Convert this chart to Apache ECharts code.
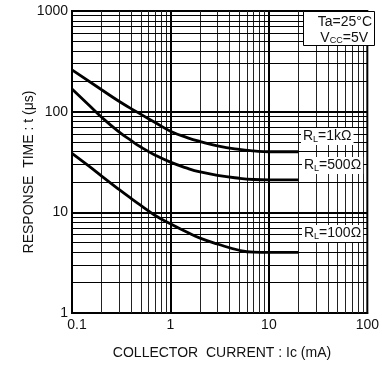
<!DOCTYPE html>
<html><head><meta charset="utf-8">
<script src="https://cdn.jsdelivr.net/npm/echarts@6/dist/echarts.min.js"></script>
<style>html,body{margin:0;padding:0;background:#fff}#c{width:382px;height:365px}</style>
</head><body><div id="c"></div>
<script>
// Tick labels
const xTicks = [0.1, 1, 10, 100];
const yTicks = [1, 10, 100, 1000];
// Series: collector current Ic (mA) vs response time t (us)
const ic1k  = [0.1, 0.2, 0.3, 0.45, 0.7, 1, 1.5, 2, 3, 5, 7, 10, 20];
const t1k   = [260, 165, 127, 100, 78, 64, 55, 50.5, 45.8, 42.2, 40.8, 40, 40];
const ic500 = [0.1, 0.15, 0.2, 0.3, 0.4, 0.5, 0.7, 1, 1.5, 2, 3, 5, 7, 10, 20];
const t500  = [168, 115, 88, 63, 51.5, 44.5, 37, 31.5, 27.3, 25.2, 23.3, 21.8, 21.2, 21, 21];
const ic100 = [0.1, 0.15, 0.2, 0.3, 0.4, 0.5, 0.7, 1, 1.5, 2, 3, 5, 7, 10, 20];
const t100  = [38.6, 28.6, 22.9, 16.9, 13.7, 11.7, 9.3, 7.7, 6.3, 5.55, 4.85, 4.2, 4.02, 4, 4];

const zip = (a, b) => a.map((v, i) => [v, b[i]]);

// grid line positions (1..9 per decade)
const minorX = [], majorX = [1, 10], minorY = [], majorY = [10, 100];
[0.1, 1, 10].forEach(d => { for (let k = 2; k <= 9; k++) minorX.push(+(d * k).toPrecision(3)); });
[1, 10, 100].forEach(d => { for (let k = 2; k <= 9; k++) minorY.push(+(d * k).toPrecision(3)); });
const vLines = arr => arr.map(v => ({coords: [[v, yTicks[0]], [v, yTicks[3]]]}));
const hLines = arr => arr.map(v => ({coords: [[xTicks[0], v], [xTicks[3], v]]}));

const chart = echarts.init(document.getElementById('c'), null, {renderer: 'canvas'});
const font = 'Liberation Sans, Arial, sans-serif';
const curve = (name, d) => ({
  type: 'line', name, data: d, smooth: 0.5, symbol: 'none', z: 5,
  lineStyle: {color: '#000', width: 2.8}
});
const sub = {
  a: {fontSize: 14, fontFamily: font, color: '#111'},
  s: {fontSize: 9, fontFamily: font, color: '#111', padding: [6, 0, 0, 0]}
};
const rlLabel = (txt, x, y) => ({
  type: 'text', left: x, top: y, z: 20,
  style: {rich: sub, text: '{a|R}{s|L}{a|' + txt + '}', backgroundColor: '#fff', padding: [1, 2, 1, 2], fill: '#111'}
});
chart.setOption({
  animation: false,
  grid: {left: 72, right: 8, top: 11, bottom: 52, show: true, borderColor: '#000', borderWidth: 2, backgroundColor: '#fff'},
  xAxis: {
    type: 'log', logBase: 10, min: xTicks[0], max: xTicks[3],
    axisLine: {show: true, lineStyle: {color: '#000', width: 2}},
    axisTick: {show: false}, splitLine: {show: false},
    axisLabel: {
      fontSize: 14, fontFamily: font, color: '#111', margin: 5,
      formatter: v => (v === xTicks[0] ? '{f|0.1}' : String(v)),
      rich: {f: {fontSize: 14, fontFamily: font, color: '#111', padding: [0, 0, 0, 10]}}
    }
  },
  yAxis: {
    type: 'log', logBase: 10, min: yTicks[0], max: yTicks[3],
    axisLine: {show: true, lineStyle: {color: '#000', width: 2}},
    axisTick: {show: false}, splitLine: {show: false},
    axisLabel: {fontSize: 14, fontFamily: font, color: '#111', margin: 4, formatter: v => String(Math.round(v))}
  },
  series: [
    {type: 'lines', coordinateSystem: 'cartesian2d', polyline: false, silent: true, z: 2,
     lineStyle: {color: '#222', width: 1, opacity: 1}, data: vLines(minorX)},
    {type: 'lines', coordinateSystem: 'cartesian2d', polyline: false, silent: true, z: 2,
     lineStyle: {color: '#000', width: 1, opacity: 1}, data: hLines(minorY)},
    {type: 'lines', coordinateSystem: 'cartesian2d', polyline: false, silent: true, z: 3,
     lineStyle: {color: '#000', width: 2, opacity: 1}, data: vLines(majorX).concat(hLines(majorY))},
    curve('1k', zip(ic1k, t1k)),
    curve('500', zip(ic500, t500)),
    curve('100', zip(ic100, t100))
  ],
  graphic: [
    {type: 'rect', left: 303, top: 11, z: 20, shape: {width: 71, height: 34}, style: {fill: '#fff', stroke: '#000', lineWidth: 1}},
    {type: 'text', right: 10, top: 15, z: 21, style: {text: 'Ta=25°C', font: '14px ' + font, fill: '#111'}},
    {type: 'text', right: 14, top: 31, z: 21, style: {rich: sub, text: '{a|V}{s|CC}{a|=5V}', fill: '#111'}},
    rlLabel('=1kΩ', 301, 128),
    rlLabel('=500Ω', 302, 157),
    rlLabel('=100Ω', 302, 225),
    {type: 'text', x: 222, y: 353, z: 21, style: {text: 'COLLECTOR  CURRENT : Ic (mA)', font: '14px ' + font, fill: '#111', textAlign: 'center', textVerticalAlign: 'middle'}},
    {type: 'text', x: 29, y: 172, rotation: Math.PI / 2, z: 21, style: {text: 'RESPONSE  TIME : t (μs)', font: '14px ' + font, fill: '#111', textAlign: 'center', textVerticalAlign: 'middle'}}
  ]
});
</script></body></html>
